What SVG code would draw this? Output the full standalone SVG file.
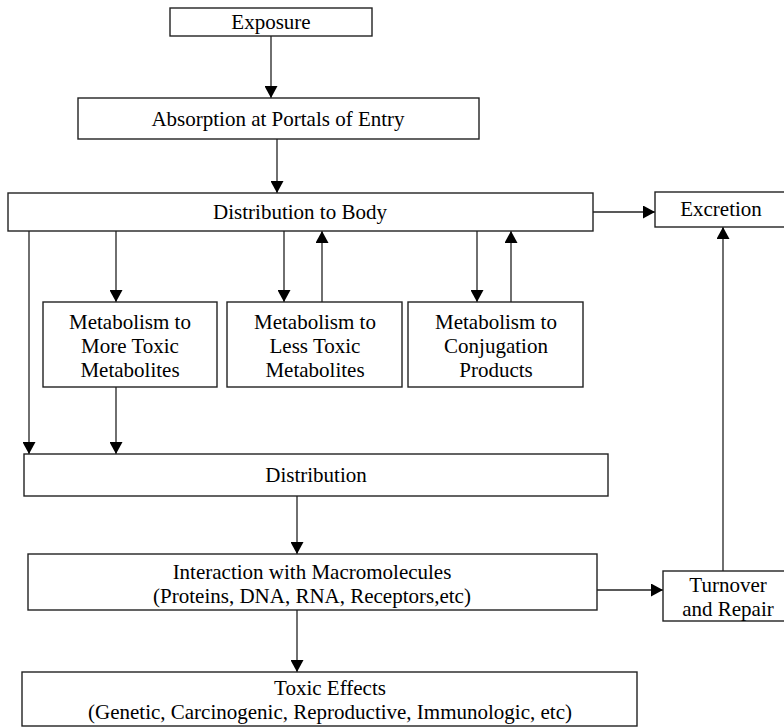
<svg xmlns="http://www.w3.org/2000/svg" width="784" height="727" viewBox="0 0 784 727">
<defs>
<marker id="ah" markerUnits="userSpaceOnUse" markerWidth="13" markerHeight="13" refX="12" refY="6.5" orient="auto">
<path d="M0,0 L12,6.5 L0,13 z" fill="#000"/>
</marker>
<style>
rect{fill:#fff;stroke:#222;stroke-width:1.4}
text{font-family:"Liberation Serif","Times New Roman",serif;font-size:21px;fill:#000;text-anchor:middle}
#connectors line{stroke:#222;stroke-width:1.3;marker-end:url(#ah)}
</style>
</defs>
<rect x="0" y="0" width="784" height="727" style="fill:#fff;stroke:none"/>
<g id="connectors">
<line x1="271" y1="36" x2="271" y2="98"/>
<line x1="277" y1="139" x2="277" y2="193"/>
<line x1="593" y1="212" x2="655" y2="212"/>
<line x1="29" y1="231" x2="29" y2="454"/>
<line x1="116" y1="231" x2="116" y2="302"/>
<line x1="284" y1="231" x2="284" y2="302"/>
<line x1="322" y1="302" x2="322" y2="231"/>
<line x1="477" y1="231" x2="477" y2="302"/>
<line x1="511" y1="302" x2="511" y2="231"/>
<line x1="116" y1="387" x2="116" y2="454"/>
<line x1="297" y1="496" x2="297" y2="554"/>
<line x1="597" y1="590" x2="663" y2="590"/>
<line x1="723" y1="571" x2="723" y2="227"/>
<line x1="297" y1="610" x2="297" y2="672"/>
</g>
<g id="exposure">
<rect x="170" y="8" width="202" height="28"/>
<text x="271" y="29">Exposure</text>
</g>
<g id="absorption">
<rect x="78" y="98" width="401" height="41"/>
<text x="278" y="126">Absorption at Portals of Entry</text>
</g>
<g id="distribution-body">
<rect x="8" y="193" width="585" height="38"/>
<text x="300" y="219">Distribution to Body</text>
</g>
<g id="excretion">
<rect x="655" y="192" width="140" height="35"/>
<text x="721" y="216">Excretion</text>
</g>
<g id="meta-more">
<rect x="43" y="302" width="174" height="85"/>
<text x="130" y="329">Metabolism to</text>
<text x="130" y="353">More Toxic</text>
<text x="130" y="377">Metabolites</text>
</g>
<g id="meta-less">
<rect x="227" y="302" width="175" height="85"/>
<text x="315" y="329">Metabolism to</text>
<text x="315" y="353">Less Toxic</text>
<text x="315" y="377">Metabolites</text>
</g>
<g id="meta-conj">
<rect x="408" y="302" width="175" height="85"/>
<text x="496" y="329">Metabolism to</text>
<text x="496" y="353">Conjugation</text>
<text x="496" y="377">Products</text>
</g>
<g id="distribution">
<rect x="24" y="454" width="584" height="42"/>
<text x="316" y="482">Distribution</text>
</g>
<g id="interaction">
<rect x="28" y="554" width="569" height="56"/>
<text x="312" y="579">Interaction with Macromolecules</text>
<text x="312" y="603">(Proteins, DNA, RNA, Receptors,etc)</text>
</g>
<g id="turnover">
<rect x="663" y="571" width="140" height="50"/>
<text x="728" y="592">Turnover</text>
<text x="728" y="616">and Repair</text>
</g>
<g id="toxic">
<rect x="22" y="672" width="615" height="54"/>
<text x="330" y="695">Toxic Effects</text>
<text x="330" y="719">(Genetic, Carcinogenic, Reproductive, Immunologic, etc)</text>
</g>
</svg>
